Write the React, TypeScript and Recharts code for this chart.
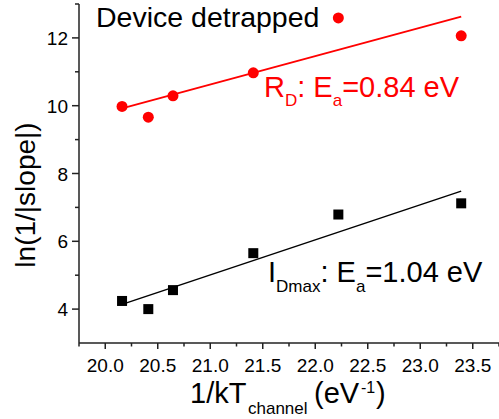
import { ComposedChart, Line, Scatter, XAxis, YAxis, Customized } from 'recharts';

const FONT = '"Liberation Sans", Arial, sans-serif';
const RED = '#ff0000';
const AXIS = '#222222';

// 1/kT_channel (eV^-1) for each measured temperature
const invKT = [20.16, 20.41, 20.645, 21.41, 22.22, 23.39];
// ln(1/|slope|) for R_D (device detrapped)
const rdValues = [9.98, 9.66, 10.29, 10.97, 12.59, 12.06];
// ln(1/|slope|) for I_Dmax
const idmaxValues = [4.24, 4.0, 4.56, 5.65, 6.79, 7.12];

// linear fits, end points
const fitX = [20.16, 23.39];
const rdFit = [9.92, 12.63];
const idmaxFit = [4.14, 7.48];

const xTicks = [19.75, 20, 20.25, 20.5, 20.75, 21, 21.25, 21.5, 21.75, 22, 22.25, 22.5, 22.75, 23, 23.25, 23.5, 23.75];
const yTicks = [3, 4, 5, 6, 7, 8, 9, 10, 11, 12, 13];

const rdData = invKT.map((x, i) => ({ x, y: rdValues[i] }));
const idmaxData = invKT.map((x, i) => ({ x, y: idmaxValues[i] }));
const rdFitData = fitX.map((x, i) => ({ x, y: rdFit[i] }));
const idmaxFitData = fitX.map((x, i) => ({ x, y: idmaxFit[i] }));

const XTick = ({ x, y, payload }: any) => {
  const v = payload.value as number;
  const major = Math.abs(v * 2 - Math.round(v * 2)) < 1e-6;
  return (
    <g>
      <line x1={x} x2={x} y1={y} y2={y + (major ? 6 : 3.5)} stroke={AXIS} strokeWidth={1.5} />
      {major && (
        <text x={x} y={y + 28.5} textAnchor="middle" fontSize={19} fontFamily={FONT} fill="#000">
          {v.toFixed(1)}
        </text>
      )}
    </g>
  );
};

const YTick = ({ x, y, payload }: any) => {
  const v = payload.value as number;
  if (v === 3) return <g />;
  const major = v % 2 === 0;
  return (
    <g>
      <line x1={x} x2={x - (major ? 7 : 4)} y1={y} y2={y} stroke={AXIS} strokeWidth={1.5} />
      {major && (
        <text x={x - 11} y={y + 7} textAnchor="end" fontSize={19} fontFamily={FONT} fill="#000">
          {v}
        </text>
      )}
    </g>
  );
};

const Circle = ({ cx, cy }: any) => <circle cx={cx} cy={cy} r={5.5} fill={RED} />;
const Square = ({ cx, cy }: any) => <rect x={cx - 5} y={cy - 5} width={10} height={10} fill="#000" />;

const Labels = () => (
  <g fontFamily={FONT}>
    <text transform="translate(35,195) rotate(-90)" textAnchor="middle" fontSize={28} fill="#000">
      ln(1/|slope|)
    </text>
    <text y={403} fontSize={29} fill="#000">
      <tspan x={190}>1/kT</tspan>
      <tspan x={248} dy={11} fontSize={17}>channel</tspan>
      <tspan x={314} dy={-11}>(eV</tspan>
      <tspan x={361} dy={-10} fontSize={16}>-1</tspan>
      <tspan x={376} dy={10}>)</tspan>
    </text>
    <text x={96} y={27} fontSize={28.5} fill="#000">
      Device detrapped
    </text>
    <text x={264} y={97} fontSize={29} fill={RED}>
      R<tspan dy={9} fontSize={17}>D</tspan>
      <tspan dy={-9}>: E</tspan>
      <tspan dy={9} fontSize={17}>a</tspan>
      <tspan dy={-9}>=0.84 eV</tspan>
    </text>
    <text x={268} y={282} fontSize={29} fill="#000">
      I<tspan dy={10} fontSize={17}>Dmax</tspan>
      <tspan dy={-10}>: E</tspan>
      <tspan dy={10} fontSize={17}>a</tspan>
      <tspan dy={-10}>=1.04 eV</tspan>
    </text>
  </g>
);

export default function App() {
  return (
    <div style={{ position: 'absolute', left: 0, top: 0, width: 499, height: 419, background: '#fff' }}>
      <ComposedChart width={499} height={419} margin={{ top: 4, right: 0, bottom: 0, left: 0 }}>
        <XAxis
          type="number"
          dataKey="x"
          domain={[19.75, 23.75]}
          ticks={xTicks}
          interval={0}
          allowDataOverflow
          height={76}
          tickSize={0}
          tickMargin={0}
          tickLine={false}
          tick={<XTick />}
          axisLine={{ stroke: AXIS, strokeWidth: 1.5 }}
        />
        <YAxis
          type="number"
          dataKey="y"
          domain={[3, 13]}
          ticks={yTicks}
          interval={0}
          allowDataOverflow
          width={79}
          tickSize={0}
          tickMargin={0}
          tickLine={false}
          tick={<YTick />}
          axisLine={{ stroke: AXIS, strokeWidth: 1.5 }}
        />
        <Line data={rdFitData} dataKey="y" stroke={RED} strokeWidth={1.8} dot={false} isAnimationActive={false} />
        <Line data={idmaxFitData} dataKey="y" stroke="#000" strokeWidth={1.5} dot={false} isAnimationActive={false} />
        <Scatter data={rdData} dataKey="y" shape={<Circle />} isAnimationActive={false} />
        <Scatter data={idmaxData} dataKey="y" shape={<Square />} isAnimationActive={false} />
        <Customized component={Labels} />
      </ComposedChart>
    </div>
  );
}
